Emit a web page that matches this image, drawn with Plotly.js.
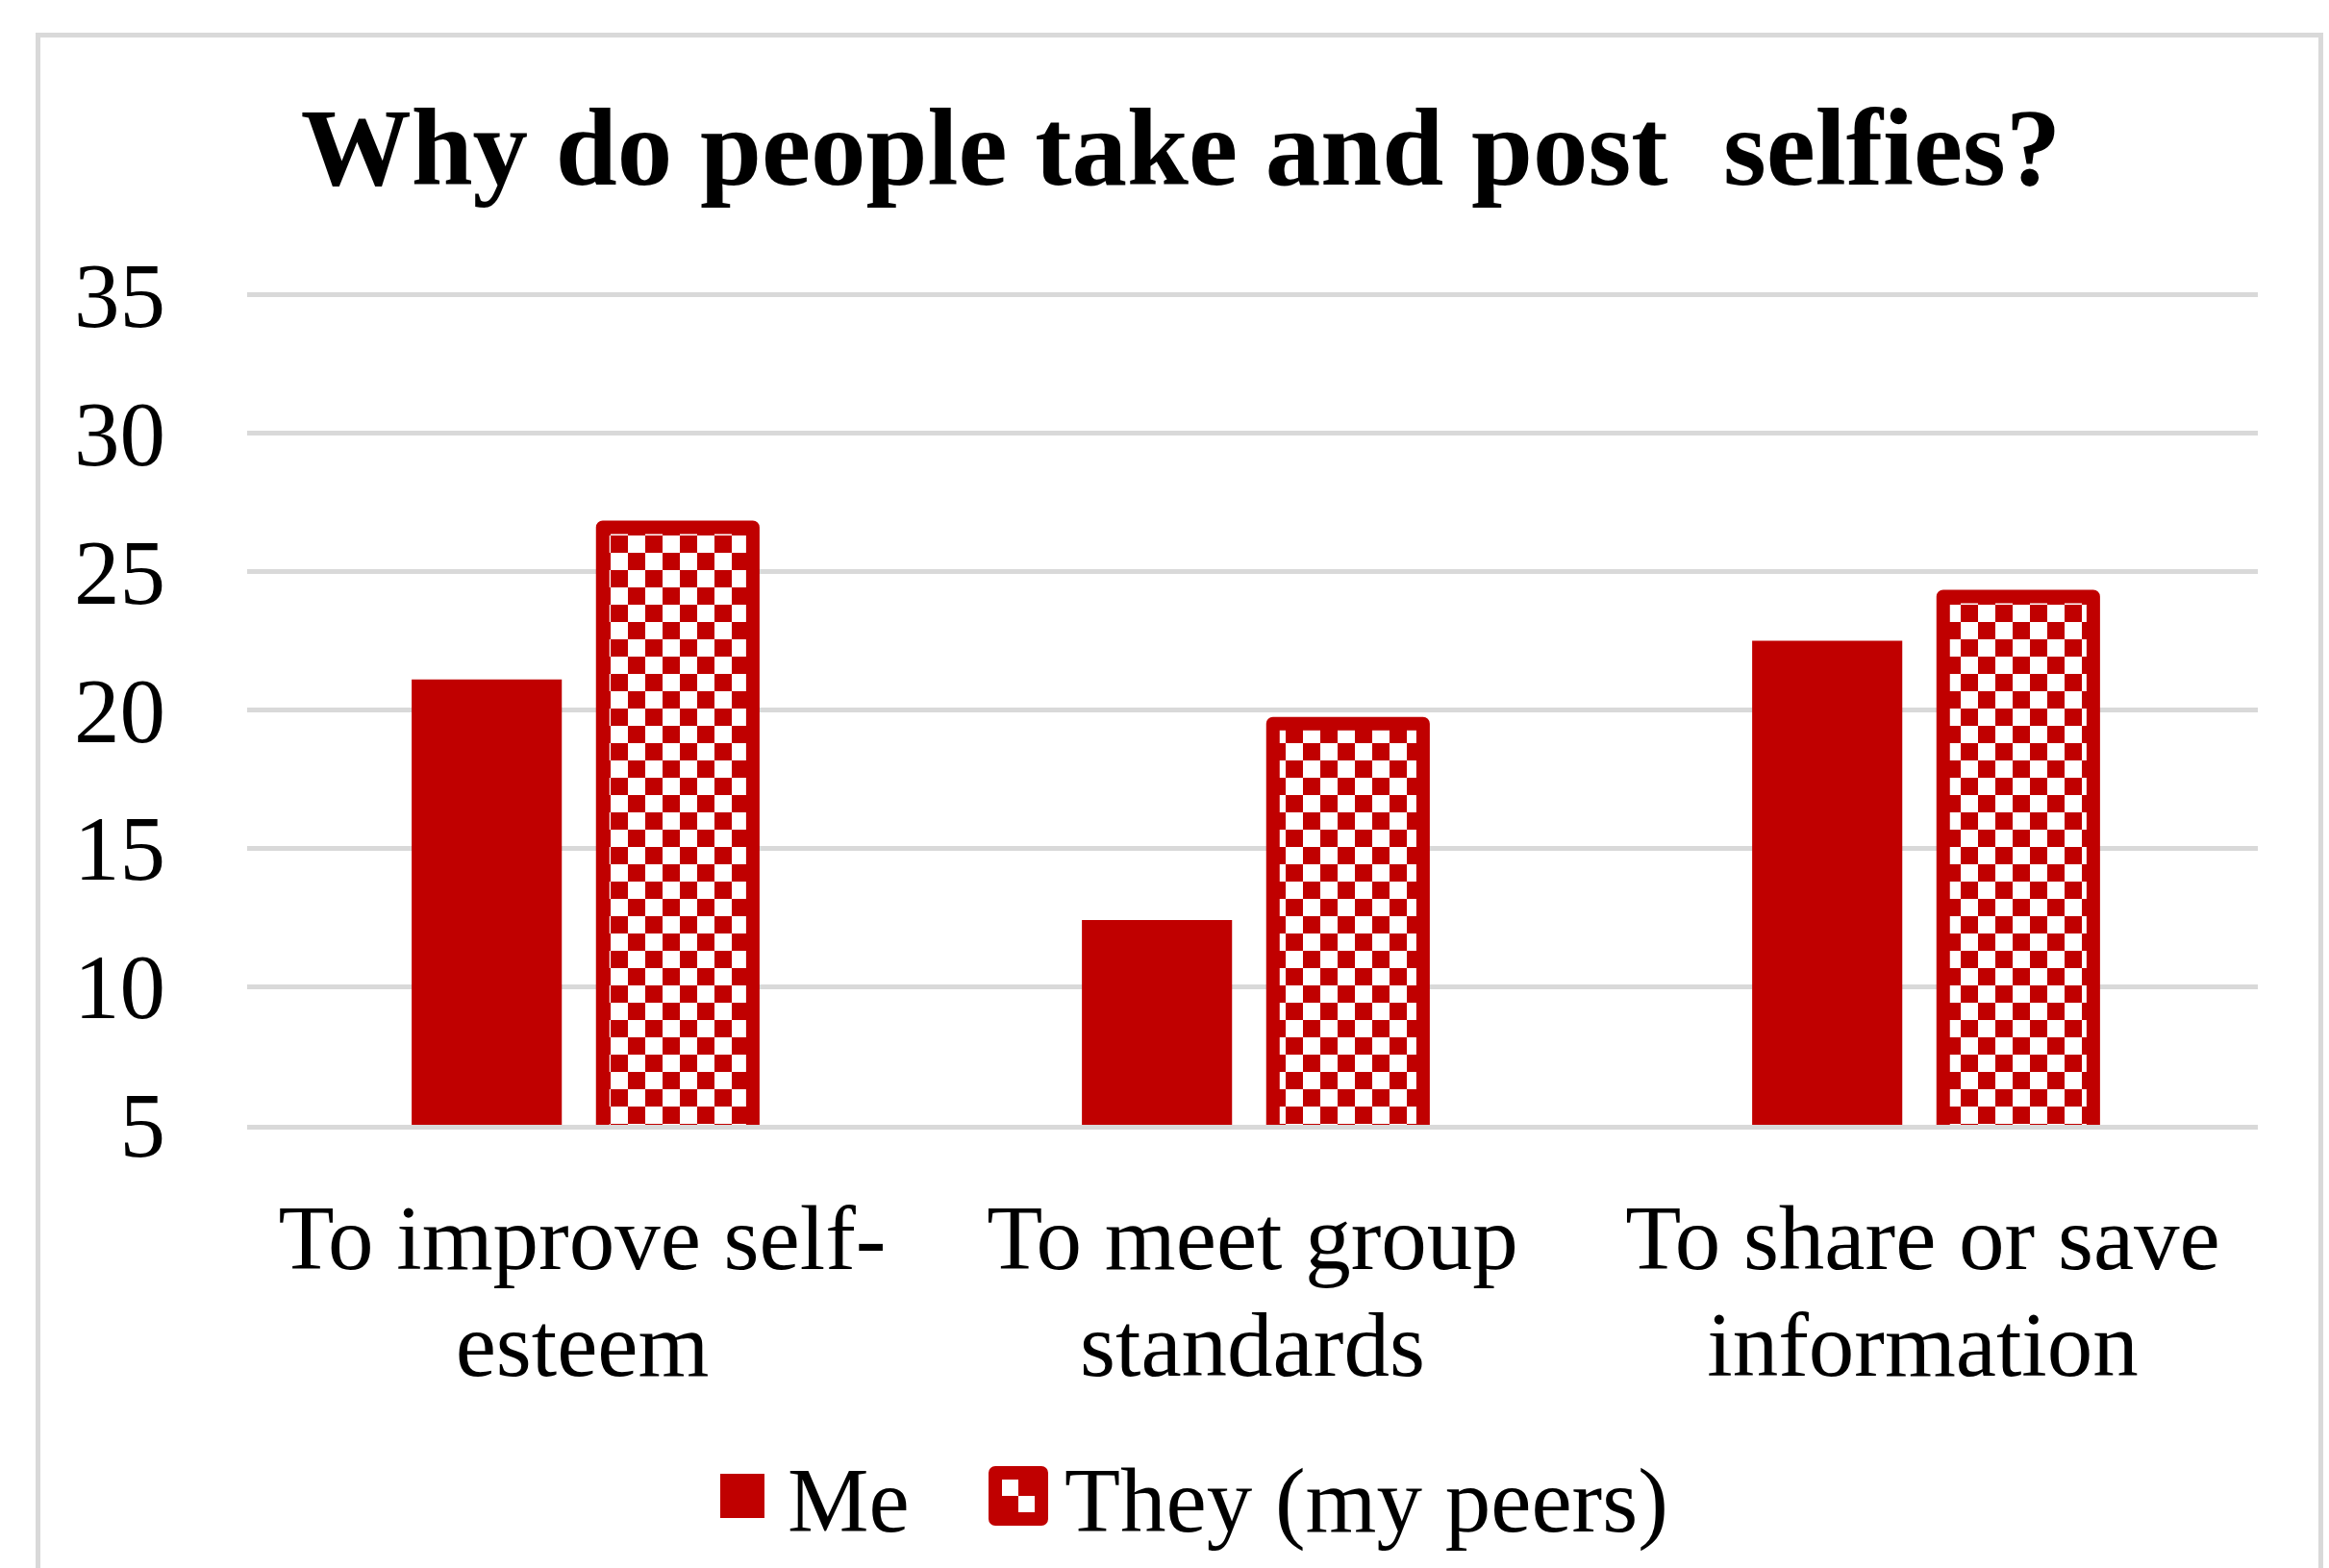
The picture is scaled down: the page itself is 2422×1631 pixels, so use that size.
<!DOCTYPE html>
<html><head><meta charset="utf-8">
<script src="https://cdn.plot.ly/plotly-3.0.1.min.js"></script>
<style>
html,body{margin:0;padding:0;background:#fff;overflow:hidden;width:2422px;height:1631px;}
#chart{position:absolute;left:0;top:0;width:2422px;height:1631px;}
#frame{position:absolute;left:37px;top:34px;width:2379px;height:1700px;border:5px solid #d9d9d9;box-sizing:border-box;pointer-events:none;}
</style></head><body>
<div id="chart"></div><div id="frame"></div>
<script>
// ---- data ----
const categories = ['To improve self-<br>esteem', 'To meet group<br>standards', 'To share or save<br>information'];
const seriesNames = ['Me', 'They (my peers)'];
const meValues = [21.1, 12.4, 22.5];
const theyValues = [26.6, 19.5, 24.1];
const yTickValues = [5, 10, 15, 20, 25, 30, 35];
const chartTitle = 'Why do people take and post \u00a0selfies?';

// ---- style ----
const RED = '#C00000';
const GRID = '#d9d9d9';
const FONT = "'Liberation Serif', 'Times New Roman', Times, serif";

const data = [
  {type: 'bar', name: seriesNames[0], x: categories, y: meValues,
   marker: {color: RED, line: {width: 0}}},
  {type: 'bar', name: seriesNames[1], x: categories, y: theyValues,
   marker: {color: RED, line: {color: RED, width: 14},
            pattern: {shape: '+', size: 36, fgcolor: RED, bgcolor: '#ffffff', solidity: 0.5}}}
];

const layout = {
  width: 2422, height: 1631,
  paper_bgcolor: 'rgba(0,0,0,0)', plot_bgcolor: 'rgba(0,0,0,0)',
  margin: {l: 257, r: 74, t: 305, b: 455, pad: 0},
  font: {family: FONT, size: 95, color: '#000'},
  title: {text: chartTitle, font: {family: FONT, size: 115, color: '#000', weight: 'bold'},
          x: 0.507, xref: 'container', xanchor: 'center', y: 0.9068, yref: 'container', yanchor: 'middle'},
  barmode: 'group', bargap: 0.43, bargroupgap: 0.214,
  showlegend: true,
  xaxis: {type: 'category', showgrid: false, showline: true, linecolor: GRID, linewidth: 5,
          ticks: '', ticklabelstandoff: 31, automargin: false, fixedrange: true,
          tickfont: {family: FONT, size: 95, color: '#000'}},
  yaxis: {range: [5, 35.06], tickvals: yTickValues, showgrid: true, gridcolor: GRID, gridwidth: 5,
          zeroline: false, showline: false, ticks: '', ticklabelstandoff: 84, automargin: false,
          fixedrange: true, tickfont: {family: FONT, size: 95, color: '#000'}},
  legend: {orientation: 'h', x: 0.233, xanchor: 'left', y: -0.4396, yanchor: 'middle',
           font: {family: FONT, size: 95, color: '#000'}, bgcolor: 'rgba(0,0,0,0)'}
};

const gd = document.getElementById('chart');

function fix() {
  const NS = 'http://www.w3.org/2000/svg';
  try {
    document.querySelectorAll('pattern').forEach(p => {
      p.setAttribute('width', 36); p.setAttribute('height', 36);
      p.removeAttribute('patternTransform');
      p.setAttribute('patternUnits', 'userSpaceOnUse');
      while (p.firstChild) p.removeChild(p.firstChild);
      const mk = (x, y, w, h, c) => {
        const r = document.createElementNS(NS, 'rect');
        r.setAttribute('x', x); r.setAttribute('y', y);
        r.setAttribute('width', w); r.setAttribute('height', h);
        r.setAttribute('fill', c); p.appendChild(r);
      };
      mk(0, 0, 36, 36, RED); mk(0, 0, 18, 18, '#ffffff'); mk(18, 18, 18, 18, '#ffffff');
    });
  } catch (e) {}
  try {
    const traces = gd.querySelectorAll('.barlayer .trace');
    if (traces[1]) traces[1].querySelectorAll('path').forEach(p => { p.style.strokeLinejoin = 'round'; });
  } catch (e) {}
  try {
    gd.querySelectorAll('.xtick text tspan.line').forEach(ts => {
      const dy = ts.getAttribute('dy');
      if (dy && parseFloat(dy) !== 0) ts.setAttribute('dy', (parseFloat(dy) * 1.17 / 1.3) + 'em');
    });
  } catch (e) {}
  try {
    const leg = gd.querySelector('.legend');
    const sb = leg.querySelector('.scrollbox');
    if (sb) sb.removeAttribute('clip-path');
    const items = leg.querySelectorAll('.traces');
    const specs = [{h: 23, sw: 0, cx: 772, gap: 47}, {h: 24, sw: 14, cx: 1059, gap: 48}];
    const cy = 1556;
    items.forEach((g, i) => {
      const s = specs[i];
      const path = g.querySelector('.legendpoints path');
      const bb = path.getBBox();
      const pcx = bb.x + bb.width / 2, pcy = bb.y + bb.height / 2;
      path.setAttribute('d', `M${pcx - s.h},${pcy - s.h}H${pcx + s.h}V${pcy + s.h}H${pcx - s.h}Z`);
      path.style.strokeWidth = s.sw + 'px';
      if (!s.sw) path.style.stroke = 'none'; else path.style.stroke = RED;
      path.style.strokeLinejoin = 'round';
      let r = path.getBoundingClientRect();
      const dx = s.cx - (r.left + r.width / 2), dy = cy - (r.top + r.height / 2);
      const tr = g.getAttribute('transform') || '';
      const m = /translate\(\s*([-\d.e]+)[ ,]*([-\d.e]*)\s*\)/.exec(tr);
      const tx = m ? parseFloat(m[1]) : 0, ty = (m && m[2]) ? parseFloat(m[2]) : 0;
      g.setAttribute('transform', `translate(${tx + dx},${ty + dy})`);
      r = path.getBoundingClientRect();
      const text = g.querySelector('text.legendtext');
      const tb = text.getBoundingClientRect();
      const want = (r.left + r.width / 2) + s.gap;
      text.setAttribute('x', parseFloat(text.getAttribute('x') || 0) + (want - tb.left));
    });
  } catch (e) {}
}

Plotly.newPlot(gd, data, layout, {staticPlot: true, displayModeBar: false}).then(fix);
</script>
</body></html>
